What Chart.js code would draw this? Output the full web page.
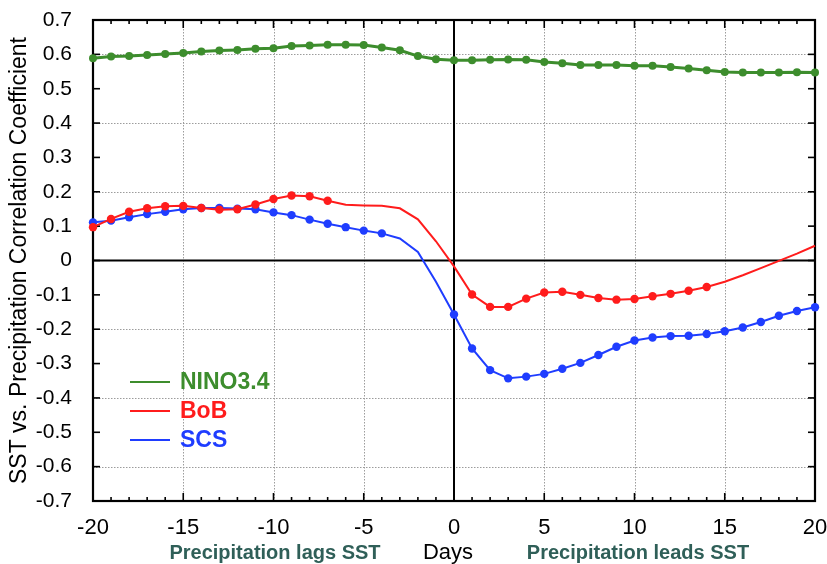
<!DOCTYPE html>
<html>
<head>
<meta charset="utf-8">
<script src="https://cdn.jsdelivr.net/npm/chart.js@4.4.0/dist/chart.umd.min.js"></script>
<style>
  html, body { margin: 0; padding: 0; background: #fff; }
  #wrap { width: 827px; height: 564px; }
</style>
</head>
<body>
<div id="wrap"><canvas id="corrChart" width="827" height="564"></canvas></div>
<script>
// lag in days (negative: precipitation lags SST)
const days = [-20, -19, -18, -17, -16, -15, -14, -13, -12, -11,
              -10, -9, -8, -7, -6, -5, -4, -3, -2, -1,
              0, 1, 2, 3, 4, 5, 6, 7, 8, 9,
              10, 11, 12, 13, 14, 15, 16, 17, 18, 19, 20];

const nino34 = [0.589, 0.594, 0.595, 0.598, 0.601, 0.604, 0.608, 0.611, 0.613, 0.616,
                0.618, 0.624, 0.626, 0.628, 0.628, 0.627, 0.620, 0.612, 0.595, 0.586,
                0.583, 0.583, 0.584, 0.585, 0.584, 0.578, 0.574, 0.569, 0.569, 0.569,
                0.567, 0.567, 0.563, 0.559, 0.554, 0.549, 0.547, 0.547, 0.547, 0.548, 0.547];

const bob = [0.097, 0.121, 0.142, 0.152, 0.158, 0.159, 0.153, 0.148, 0.149, 0.163,
             0.179, 0.189, 0.187, 0.174, 0.162, 0.160, 0.159, 0.152, 0.120, 0.056,
             -0.017, -0.099, -0.135, -0.135, -0.111, -0.093, -0.091, -0.100, -0.109, -0.114,
             -0.112, -0.104, -0.097, -0.088, -0.077, -0.062, -0.043, -0.022, -0.001, 0.020, 0.043];

const scs = [0.111, 0.116, 0.126, 0.135, 0.142, 0.149, 0.153, 0.153, 0.151, 0.149,
             0.140, 0.132, 0.119, 0.107, 0.097, 0.087, 0.079, 0.064, 0.025, -0.062,
             -0.157, -0.256, -0.319, -0.343, -0.338, -0.330, -0.315, -0.298, -0.275, -0.251,
             -0.233, -0.224, -0.220, -0.219, -0.214, -0.206, -0.195, -0.179, -0.161, -0.147, -0.136];

// 1 = day drawn with a dot, 0 = line only
const ninoMarked = [1,1,1,1,1,1,1,1,1,1, 1,1,1,1,1,1,1,1,1,1, 1,1,1,1,1,1,1,1,1,1, 1,1,1,1,1,1,1,1,1,1,1];
const bobMarked  = [1,1,1,1,1,1,1,1,1,1, 1,1,1,1,0,0,0,0,0,0, 0,1,1,1,1,1,1,1,1,1, 1,1,1,1,1,0,0,0,0,0,0];
const scsMarked  = [1,1,1,1,1,1,1,1,1,1, 1,1,1,1,1,1,1,0,0,0, 1,1,1,1,1,1,1,1,1,1, 1,1,1,1,1,1,1,1,1,1,1];

const xTickValues = [-20, -15, -10, -5, 0, 5, 10, 15, 20];
const yTickValues = [0.7, 0.6, 0.5, 0.4, 0.3, 0.2, 0.1, 0, -0.1, -0.2, -0.3, -0.4, -0.5, -0.6, -0.7];
const xGridValues = [-15, -10, -5, 5, 10, 15];
const yGridValues = [0.6, 0.4, 0.2, -0.2, -0.4, -0.6];

const FONT = '"Liberation Sans", Arial, Helvetica, sans-serif';
const GREEN = '#3d8d2d';
const RED = '#ff1c1c';
const BLUE = '#1f3dff';
const NOTE = '#2f5f58';

function series(values) {
    return days.map((d, i) => ({ x: d, y: values[i] }));
}

const framePlugin = {
    id: 'frame',
    beforeDatasetsDraw(chart) {
        const { ctx, chartArea: a, scales: { x, y } } = chart;
        const seg = (x1, y1, x2, y2) => {
            ctx.beginPath(); ctx.moveTo(x1, y1); ctx.lineTo(x2, y2); ctx.stroke();
        };
        ctx.save();
        // dotted grid
        ctx.strokeStyle = '#9c9c9c';
        ctx.lineWidth = 1;
        ctx.setLineDash([1.5, 1.5]);
        xGridValues.forEach(v => {
            const px = Math.round(x.getPixelForValue(v)) + 0.5;
            seg(px, a.top, px, a.bottom);
        });
        yGridValues.forEach(v => {
            const py = Math.round(y.getPixelForValue(v)) + 0.5;
            seg(a.left, py, a.right, py);
        });
        ctx.setLineDash([]);

        // zero lines
        ctx.strokeStyle = '#000';
        ctx.lineWidth = 2;
        const x0 = x.getPixelForValue(0), y0 = y.getPixelForValue(0);
        seg(x0, a.top, x0, a.bottom);
        seg(a.left, y0, a.right, y0);

        // inward ticks
        ctx.lineWidth = 1.6;
        days.forEach(d => {
            const px = x.getPixelForValue(d);
            const len = d % 5 === 0 ? 8 : 4;
            seg(px, a.bottom, px, a.bottom - len);
            seg(px, a.top, px, a.top + len);
        });
        yTickValues.forEach(v => {
            const py = y.getPixelForValue(v);
            seg(a.left, py, a.left + 7, py);
            seg(a.right, py, a.right - 7, py);
        });

        // box
        ctx.lineWidth = 2.2;
        ctx.strokeRect(a.left, a.top, a.right - a.left, a.bottom - a.top);
        ctx.restore();
    },
    afterDraw(chart) {
        const { ctx } = chart;
        ctx.save();
        // legend inside the plot
        ctx.textBaseline = 'middle';
        ctx.textAlign = 'left';
        ctx.font = 'bold 23px ' + FONT;
        const rows = [382, 411, 440];
        chart.data.datasets.forEach((ds, i) => {
            ctx.strokeStyle = ds.borderColor;
            ctx.lineWidth = 2;
            ctx.beginPath();
            ctx.moveTo(130, rows[i]);
            ctx.lineTo(170, rows[i]);
            ctx.stroke();
            ctx.fillStyle = ds.borderColor;
            ctx.fillText(ds.label, 180, rows[i] + 1);
        });

        // bottom notes
        ctx.textBaseline = 'alphabetic';
        ctx.textAlign = 'center';
        ctx.fillStyle = '#000';
        ctx.font = '22px ' + FONT;
        ctx.fillText('Days', 448, 559);
        ctx.fillStyle = NOTE;
        ctx.font = 'bold 20px ' + FONT;
        ctx.fillText('Precipitation lags SST', 275, 559);
        ctx.fillText('Precipitation leads SST', 638, 559);
        ctx.restore();
    }
};

const ctx = document.getElementById('corrChart');
new Chart(ctx, {
    type: 'line',
    data: {
        datasets: [
            {
                label: 'NINO3.4',
                data: series(nino34),
                borderColor: GREEN,
                backgroundColor: GREEN,
                borderWidth: 3,
                pointRadius: c => ninoMarked[c.dataIndex] ? 4 : 0,
                pointBorderWidth: 0,
                tension: 0,
                clip: false,
            },
            {
                label: 'BoB',
                data: series(bob),
                borderColor: RED,
                backgroundColor: RED,
                borderWidth: 2,
                pointRadius: c => bobMarked[c.dataIndex] ? 4.2 : 0,
                pointBorderWidth: 0,
                tension: 0,
                clip: false,
            },
            {
                label: 'SCS',
                data: series(scs),
                borderColor: BLUE,
                backgroundColor: BLUE,
                borderWidth: 2,
                pointRadius: c => scsMarked[c.dataIndex] ? 4.2 : 0,
                pointBorderWidth: 0,
                tension: 0,
                clip: false,
            },
        ],
    },
    options: {
        responsive: false,
        animation: false,
        events: [],
        layout: { padding: { left: 0, top: 20, right: 12, bottom: 0 } },
        plugins: {
            legend: { display: false },
            tooltip: { enabled: false },
        },
        scales: {
            x: {
                type: 'linear',
                min: -20,
                max: 20,
                afterBuildTicks: s => { s.ticks = xTickValues.map(v => ({ value: v })); },
                afterFit: s => { s.height = 63; s.paddingLeft = 0; s.paddingRight = 0; },
                grid: { display: false },
                border: { display: false },
                ticks: {
                    color: '#000',
                    font: { family: FONT, size: 22 },
                    padding: 6,
                    maxRotation: 0,
                    callback: v => String(v),
                },
            },
            y: {
                min: -0.7,
                max: 0.7,
                afterBuildTicks: s => { s.ticks = yTickValues.map(v => ({ value: v })); },
                afterFit: s => { s.width = 93; s.paddingTop = 0; s.paddingBottom = 0; },
                grid: { display: false },
                border: { display: false },
                ticks: {
                    color: '#000',
                    font: { family: FONT, size: 21 },
                    padding: 13,
                    callback: v => {
                        const r = Math.round(v * 10) / 10;
                        return r === 0 ? '0' : r.toFixed(1);
                    },
                },
                title: {
                    display: true,
                    text: 'SST vs. Precipitation Correlation Coefficient',
                    color: '#000',
                    font: { family: FONT, size: 23 },
                    padding: { top: 6, bottom: 0 },
                },
            },
        },
    },
    plugins: [framePlugin],
});
</script>
</body>
</html>
